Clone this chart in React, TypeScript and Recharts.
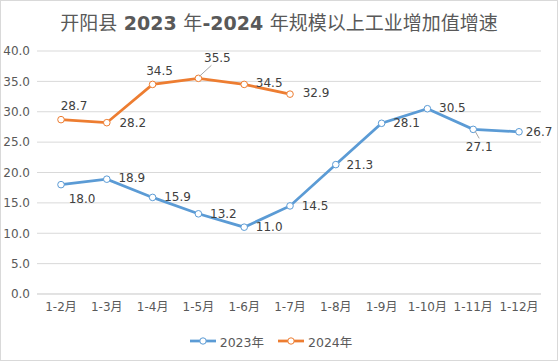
import React from 'react';
import {
    LineChart,
    Line,
    XAxis,
    YAxis,
    CartesianGrid,
    Legend,
    LabelList,
} from 'recharts';

const categories = ['1-2月', '1-3月', '1-4月', '1-5月', '1-6月', '1-7月', '1-8月', '1-9月', '1-10月', '1-11月', '1-12月'];
const growth2023 = [18.0, 18.9, 15.9, 13.2, 11.0, 14.5, 21.3, 28.1, 30.5, 27.1, 26.7];
const growth2024 = [28.7, 28.2, 34.5, 35.5, 34.5, 32.9, null, null, null, null, null];
const yTicks = [0, 5, 10, 15, 20, 25, 30, 35, 40];

// label offsets (centre of text relative to point), leader line flag
const labelPos2023: [number, number, boolean][] = [
    [21, 14, false], [25, -1, false], [25, 0, false], [25, 0, false], [25, 0, false],
    [25, 0, false], [24, 0, false], [25, 0, false], [25, -1, false], [6, 18, true], [20, 0, false],
];
const labelPos2024: [number, number, boolean][] = [
    [13, -14, false], [26, 0, false], [7, -13, false], [19, -20, true], [25, -1, false], [26, -1, false],
];

const data = categories.map((name, i) => ({
    name,
    y2023: growth2023[i],
    y2024: growth2024[i],
}));

const BLUE = '#5B9BD5';
const ORANGE = '#ED7D31';
const FONT = '"DejaVu Sans", "Noto Sans CJK SC", sans-serif';

function makeLabel(pos: [number, number, boolean][]) {
    return (props: any) => {
        const { x, y, value, index } = props;
        if (value == null || !pos[index]) return null;
        const [dx, dy, leader] = pos[index];
        return (
            <g>
                {leader && (
                    <line
                        x1={x + (dx > 10 ? 1 : 2)}
                        y1={y + (dy < 0 ? -2 : 2)}
                        x2={x + (dx > 10 ? 13 : 6)}
                        y2={y + (dy < 0 ? -13 : 9)}
                        stroke="#a6a6a6"
                        strokeWidth={1}
                    />
                )}
                <text
                    x={x + dx}
                    y={y + dy}
                    textAnchor="middle"
                    dominantBaseline="central"
                    fontSize={12}
                    fontFamily={FONT}
                    fill="#404040"
                >
                    {Number(value).toFixed(1)}
                </text>
            </g>
        );
    };
}

function LegendContent() {
    const items = [
        { name: '2023年', color: BLUE },
        { name: '2024年', color: ORANGE },
    ];
    return (
        <div
            style={{
                display: 'flex',
                justifyContent: 'center',
                alignItems: 'center',
                height: 20,
                gap: 13,
                fontFamily: FONT,
                fontSize: 12.5,
                color: '#595959',
            }}
        >
            {items.map((it) => (
                <div key={it.name} style={{ display: 'flex', alignItems: 'center', gap: 3 }}>
                    <svg width={28} height={10}>
                        <line x1={1} y1={5} x2={27} y2={5} stroke={it.color} strokeWidth={2.75} />
                        <circle cx={14} cy={5} r={3.2} fill="#fff" stroke={it.color} strokeWidth={1} />
                    </svg>
                    <span>{it.name}</span>
                </div>
            ))}
        </div>
    );
}

export default function App() {
    return (
        <div
            style={{
                position: 'absolute',
                left: 0,
                top: 0,
                width: 558,
                height: 361,
                background: '#fff',
            }}
        >
            <div
                style={{
                    position: 'absolute',
                    left: 0,
                    top: 10,
                    width: 558,
                    textAlign: 'center',
                    fontFamily: '"Noto Sans CJK SC", "DejaVu Sans", sans-serif',
                    fontSize: 19,
                    lineHeight: '24px',
                    color: '#595959',
                    whiteSpace: 'nowrap',
                }}
            >
                开阳县<b style={{ fontFamily: FONT }}> 2023 </b>年<b style={{ fontFamily: FONT }}>-2024 </b>年规模以上工业增加值增速
            </div>
            <LineChart
                width={558}
                height={361}
                data={data}
                margin={{ top: 51, right: 17, bottom: 10, left: 0 }}
            >
                <CartesianGrid horizontal vertical={false} stroke="#d9d9d9" />
                <XAxis
                    dataKey="name"
                    interval={0}
                    height={37}
                    padding={{ left: 24, right: 22 }}
                    axisLine={{ stroke: '#d9d9d9' }}
                    tickLine={false}
                    tickSize={0}
                    tickMargin={8}
                    tick={{ fill: '#595959', fontSize: 12, fontFamily: FONT }}
                />
                <YAxis
                    width={37}
                    domain={[0, 40]}
                    ticks={yTicks}
                    interval={0}
                    axisLine={false}
                    tickLine={false}
                    tickSize={0}
                    tickMargin={7}
                    tickFormatter={(v: number) => v.toFixed(1)}
                    tick={{ fill: '#595959', fontSize: 12, fontFamily: FONT }}
                />
                <Legend verticalAlign="bottom" height={20} content={<LegendContent />} />
                <Line
                    type="linear"
                    dataKey="y2023"
                    name="2023年"
                    stroke={BLUE}
                    strokeWidth={2.75}
                    dot={{ r: 3.3, fill: '#fff', stroke: BLUE, strokeWidth: 1 }}
                    isAnimationActive={false}
                >
                    <LabelList dataKey="y2023" content={makeLabel(labelPos2023)} />
                </Line>
                <Line
                    type="linear"
                    dataKey="y2024"
                    name="2024年"
                    stroke={ORANGE}
                    strokeWidth={2.75}
                    dot={{ r: 3.3, fill: '#fff', stroke: ORANGE, strokeWidth: 1 }}
                    isAnimationActive={false}
                >
                    <LabelList dataKey="y2024" content={makeLabel(labelPos2024)} />
                </Line>
            </LineChart>
            <div
                style={{
                    position: 'absolute',
                    left: 0,
                    top: 0,
                    width: 558,
                    height: 361,
                    boxSizing: 'border-box',
                    border: '1px solid #d9d9d9',
                    pointerEvents: 'none',
                }}
            />
        </div>
    );
}
